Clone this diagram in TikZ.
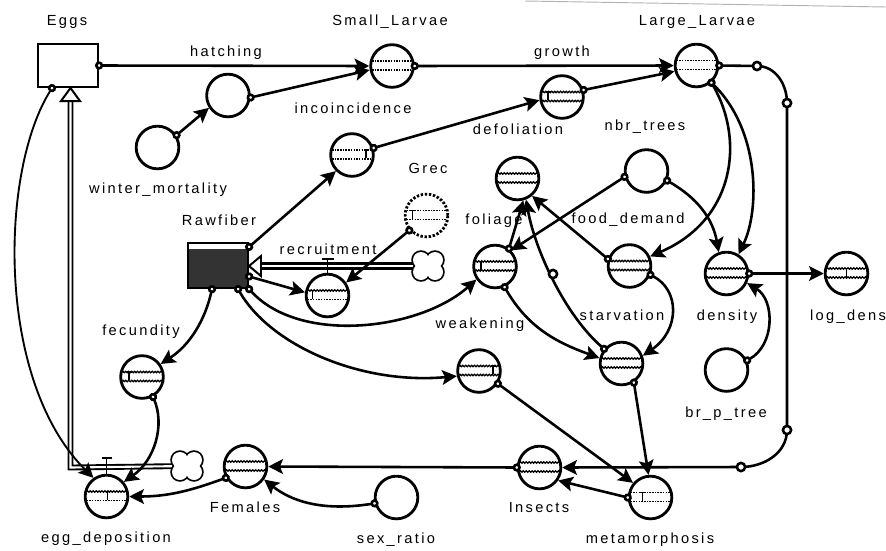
\documentclass[tikz,border=0pt]{standalone}
\usepackage{fontspec}
\setmainfont[LetterSpace=16]{Liberation Sans}
\usetikzlibrary{arrows.meta,decorations.pathmorphing}
\newcommand\twolines[3]{%
 \draw[#2] ([shift={(-20,-5)}]#1.center) -- ([shift={(20,-5)}]#1.center);
 \draw[#3] ([shift={(-20,4)}]#1.center) -- ([shift={(20,4)}]#1.center);}
\newcommand\tmk[2]{%
 \draw[line width=1.1pt] ([shift={(#2,-5)}]#1.center) -- ([shift={(#2,3)}]#1.center);
 \draw[line width=1.1pt] ([shift={(#2-2.5,-5)}]#1.center) -- ([shift={(#2+2.5,-5)}]#1.center);}
\begin{document}
\begin{tikzpicture}[x=0.03cm,y=-0.03cm,
 every node/.style={font=\fontsize{12.5}{14}\selectfont},
 conv/.style={circle, draw, line width=2.4pt, minimum size=1.28cm, inner sep=0pt, fill=white},
 boxn/.style={draw, line width=1.9pt, minimum width=1.8cm, minimum height=1.29cm, inner sep=0pt, fill=white},
 lab/.style={inner sep=0pt, text height=9pt, text depth=2.5pt},
 conn/.style={line width=2.2pt, shorten <=-3.5pt,
   arrows={Circle[fill=white,length=7pt,width=7pt,line width=2.2pt]-Stealth[length=12.5pt,width=12.5pt,inset=2.5pt]}},
 flowline/.style={line width=2.6pt},
 pipe/.style={double, double distance=1.8pt, line width=1.6pt, line join=miter},
 pipeb/.style={double, double distance=1pt, line width=2.8pt, line join=miter},
 dts/.style={densely dotted, line width=1.3pt},
 wavy/.style={decorate, decoration={snake, amplitude=0.6pt, segment length=2.5pt}, line width=1.1pt},
 dotn/.style={circle, draw, fill=white, line width=2.2pt, minimum size=7pt, inner sep=0pt}
]
\useasboundingbox (0,0) rectangle (886,550);
\draw[gray!60, line width=0.8pt] (525,1) -- (886,7);

% stocks
\node[boxn] (eggs) at (68,65.5) {};
\node[boxn, fill=black!80, minimum height=1.35cm] (raw) at (218,265.5) {};
\fill[white] ([shift={(2,2)}]raw.north west) rectangle ([shift={(-2,7)}]raw.north east);

% converters
\node[conv] (hatch) at (228,95.5) {};
\node[conv] (wm) at (157.5,147.5) {};
\node[conv] (SL) at (392,66) {};
\node[conv] (LL) at (696.5,65.5) {};
\node[conv] (gro) at (562,97) {};
\node[conv] (inco) at (352,155) {};
\node[conv] (fol) at (517.5,178.5) {};
\node[conv, dash pattern=on 2pt off 1.5pt] (grec) at (426.5,215.5) {};
\node[conv] (nbr) at (646.5,171) {};
\node[conv] (rec) at (327.5,295.5) {};
\node[conv] (folc) at (495,266.5) {};
\node[conv] (fd) at (629.5,266) {};
\node[conv] (dens) at (726.5,273.5) {};
\node[conv] (logd) at (846.5,273.5) {};
\node[conv] (starv) at (621.5,363.5) {};
\node[conv] (weak) at (479,371) {};
\node[conv] (brp) at (726.5,370) {};
\node[conv] (fec) at (142,377) {};
\node[conv] (eggdep) at (106.5,496.5) {};
\node[conv] (fem) at (245.5,466.5) {};
\node[conv] (sexr) at (396.5,497.5) {};
\node[conv] (ins) at (539.5,467.5) {};
\node[conv] (meta) at (650.5,497.5) {};

% inner marks
\twolines{SL}{dts}{dts}
\twolines{LL}{dts}{dts}
\twolines{gro}{wavy}{wavy}\tmk{gro}{-14}
\twolines{inco}{dts}{dts}\tmk{inco}{14}
\twolines{fol}{wavy}{wavy}
\twolines{grec}{dts}{dts}\tmk{grec}{-14}
\twolines{rec}{wavy}{dts}\tmk{rec}{-15}
\twolines{folc}{wavy}{wavy}\tmk{folc}{-14}
\twolines{fd}{wavy}{wavy}
\twolines{dens}{wavy}{wavy}
\twolines{logd}{wavy}{wavy}\tmk{logd}{0}
\twolines{starv}{wavy}{wavy}
\twolines{weak}{wavy}{wavy}\tmk{weak}{14}
\twolines{fec}{wavy}{wavy}\tmk{fec}{-13}
\twolines{eggdep}{wavy}{dts}\tmk{eggdep}{1}
\twolines{fem}{wavy}{wavy}
\twolines{ins}{wavy}{wavy}
\twolines{meta}{dts}{dts}\tmk{meta}{-8}

% pipes and clouds
\coordinate (cE) at (187,466);
\coordinate (cR) at (428,266);
\draw[pipe] (cE) -- (70.5,467.5) -- (70.5,99);
\draw[pipeb] (cR) -- (259,266);
\foreach \cc in {cE,cR}{
 \foreach \dx/\dy in {-7/-6,7/-6,-7/6,7/6}
  \draw[line width=3pt] ([shift={(\dx,\dy)}]\cc) circle (8);
 \foreach \dx/\dy in {-7/-6,7/-6,-7/6,7/6}
  \fill[white] ([shift={(\dx,\dy)}]\cc) circle (8);
 \fill[white] (\cc) circle (7);
}
\draw[line width=1.7pt, fill=white] (61,101) -- (70.5,88) -- (80,101) -- cycle;
\draw[line width=1.7pt, fill=white] (261,256) -- (249,266) -- (261,276) -- cycle;
% valves
\draw[line width=1.5pt] (eggdep.north) -- ++(0,-16);
\draw[line width=2pt] ([shift={(-5,-16)}]eggdep.north) -- ([shift={(5,-16)}]eggdep.north);
\draw[line width=1.5pt] (rec.north) -- ++(0,-14);
\draw[line width=2pt] ([shift={(-6,-14)}]rec.north) -- ([shift={(6,-14)}]rec.north);

% flows drawn as connectors
\draw[flowline, conn] (eggs.east) -- (SL.west);
\draw[flowline, conn] (SL.east) -- (LL.west);
\coordinate (c1) at (757,66);
\coordinate (c2) at (787,103);
\coordinate (c3) at (787,430);
\coordinate (c4) at (741,467);
\draw[flowline, conn] (LL.east) -- (c1) to[out=0,in=90] (c2) -- (c3) to[out=-90,in=0] (c4) -- (ins.east);
\node[dotn] (k1) at (c1) {};
\node[dotn] (k2) at (c2) {};
\node[dotn] (k3) at (c3) {};
\node[dotn] (k4) at (c4) {};
\draw[flowline, conn] (ins.west) -- (fem.east);

% connectors
\draw[conn] (hatch.-5) -- (SL.190);
\draw[conn] (wm.33) -- (hatch.213);
\draw[conn] (gro.18) -- (LL.195);
\draw[conn] (inco.18) -- (gro.188);
\draw[conn] ([shift={(0,5)}]raw.north east) -- (inco.225);
\draw[conn] ([shift={(0,11)}]raw.east) -- (rec.172);
\draw[conn] (raw.south east) .. controls (300,345) and (420,330) .. (folc.215);
\draw[conn] ([shift={(-11,0)}]raw.south east) .. controls (270,345) and (360,385) .. (weak.193);
\draw[conn] ([shift={(-6,0)}]raw.south) .. controls (205,320) and (190,345) .. (fec.35);
\draw[conn] (fec.-61) .. controls (165,425) and (155,460) .. (eggdep.40);
\draw[conn, line width=1.6pt] ([shift={(-16,0)}]eggs.south) .. controls (0,170) and (-5,380) .. (eggdep.125);
\draw[conn] (fem.210) to[out=200,in=0] (eggdep.0);
\draw[conn] (sexr.195) .. controls (320,512) and (290,500) .. (fem.-35);
\draw[conn] (weak.-34) -- (meta.140);
\draw[conn] (meta.180) -- (ins.-35);
\draw[conn] (starv.-57) -- (meta.95);
\draw[conn] (folc.-65) to[out=-60,in=160] (starv.166);
\draw[conn] (fd.-23) .. controls (680,290) and (680,330) .. (starv.20);
\draw[conn] (fd.162) -- (fol.-50);
\draw[conn] (starv.140) .. controls (565,315) and (535,250) .. (fol.-68);
\node[dotn] (mdot) at (553,274) {};
\draw[conn] (folc.52) -- (fol.-75);
\draw[conn] (nbr.195) -- (folc.45);
\draw[conn] (nbr.-25) to[out=-30,in=100] (dens.110);
\draw[conn] (LL.-49) .. controls (745,140) and (735,220) .. (fd.25);
\draw[conn] (LL.-49) .. controls (760,130) and (760,210) .. (dens.58);
\draw[conn] (brp.25) .. controls (775,345) and (775,300) .. (dens.-25);
\draw[conn] (dens.0) -- (logd.180);
\draw[conn] (grec.221) -- (rec.35);

% labels
\node[lab] (tEggs) at (67,22) {Eggs};
\node[lab] (thatch) at (226,53) {hatching};
\node[lab] (tSL) at (390,22) {Small\_Larvae};
\node[lab] (tgro) at (562,53) {growth};
\node[lab] (tLL) at (697,22) {Large\_Larvae};
\node[lab] (twm) at (158,190) {winter\_mortality};
\node[lab] (tinco) at (353,110) {incoincidence};
\node[lab] (tdef) at (518,131) {defoliation};
\node[lab] (tnbr) at (645,127) {nbr\_trees};
\node[lab] (tgrec) at (428,170) {Grec};
\node[lab] (traw) at (219,222) {Rawfiber};
\node[lab] (trec) at (328,251) {recruitment};
\node[lab] (tfol) at (494,221) {foliage};
\node[lab] (tfd) at (628,220) {food\_demand};
\node[lab] (tweak) at (480,325) {weakening};
\node[lab] (tstarv) at (622,317) {starvation};
\node[lab] (tdens) at (727,317) {density};
\node[lab] (tlogd) at (848,317) {log\_dens};
\node[lab] (tfec) at (141,332) {fecundity};
\node[lab] (tbrp) at (726,414) {br\_p\_tree};
\node[lab] (tegg) at (106,539) {egg\_deposition};
\node[lab] (tfem) at (245,509) {Females};
\node[lab] (tsexr) at (396,540) {sex\_ratio};
\node[lab] (tins) at (539,509) {Insects};
\node[lab] (tmeta) at (650,540) {metamorphosis};
\end{tikzpicture}
\end{document}
